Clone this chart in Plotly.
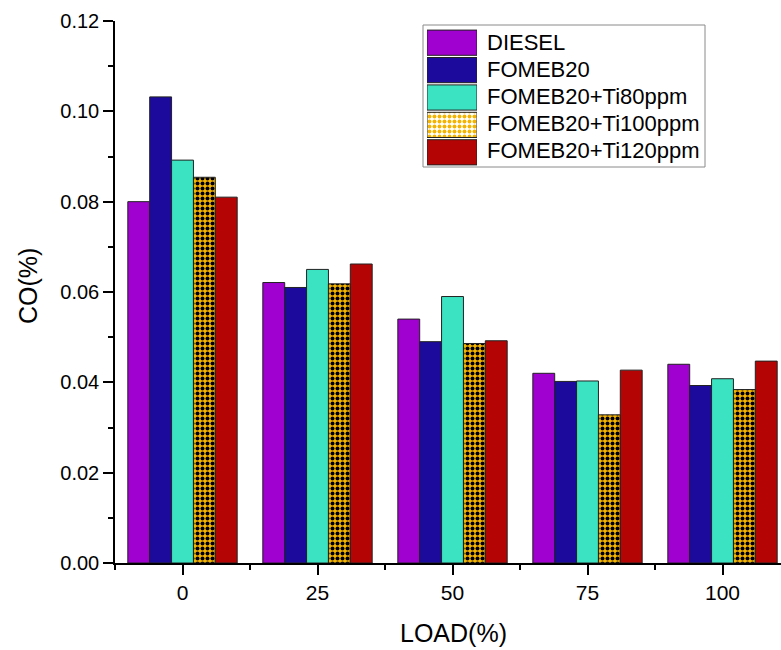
import plotly.graph_objects as go

loads = [0, 25, 50, 75, 100]
series_names = ["DIESEL", "FOMEB20", "FOMEB20+Ti80ppm", "FOMEB20+Ti100ppm", "FOMEB20+Ti120ppm"]
diesel = [0.0800, 0.0621, 0.0540, 0.0420, 0.0440]
fomeb20 = [0.1032, 0.0610, 0.0490, 0.0402, 0.0393]
ti80 = [0.0892, 0.0650, 0.0590, 0.0403, 0.0408]
ti100 = [0.0854, 0.0618, 0.0486, 0.0328, 0.0384]
ti120 = [0.0810, 0.0662, 0.0492, 0.0427, 0.0447]
y_ticks = [0.00, 0.02, 0.04, 0.06, 0.08, 0.10, 0.12]

values = [diesel, fomeb20, ti80, ti100, ti120]
colors = ["#A000D0", "#1C0A9C", "#3CE3C2", "#F4B400", "#B40404"]
patterns = ["", "", "", ".", ""]

FONT = "Liberation Sans, Arial, sans-serif"

# plot-area geometry in pixels (for paper-coordinate conversions)
W, H = 781, 650
L, R, T, B = 115, 0, 21, 87
pw, ph = W - L - R, H - T - B
def px(x):
    return (x - L) / pw
def py(y):
    return (H - B - y) / ph

fig = go.Figure()
for name, vals, c, p in zip(series_names, values, colors, patterns):
    marker = dict(color=c, line=dict(color="#222222", width=1))
    if p:
        marker["pattern"] = dict(shape=p, fgcolor="black", bgcolor=c, size=5,
                                 solidity=0.5, fillmode="replace")
    fig.add_trace(go.Bar(x=loads, y=vals, name=name, marker=marker,
                         showlegend=False))

# custom legend swatches (big Origin-style boxes) on an overlay axis
legend_idx = list(range(len(series_names)))
fig.add_trace(go.Bar(
    x=[1] * len(series_names), y=legend_idx, orientation="h", width=0.92,
    xaxis="x2", yaxis="y2", showlegend=False, hoverinfo="skip",
    marker=dict(color=colors, line=dict(color="#222222", width=1),
                pattern=dict(shape=patterns, fgcolor="black", bgcolor=colors,
                             size=5, solidity=0.5, fillmode="replace")),
))

annotations = []
for i, name in enumerate(series_names):
    annotations.append(dict(
        x=px(485), y=py(30 + 27 * i + 12.5), xref="paper", yref="paper",
        text=name, showarrow=False, xanchor="left", yanchor="middle",
        font=dict(family=FONT, size=22, color="black")))

annotations.append(dict(x=px(453), y=py(633), xref="paper", yref="paper",
                        text="LOAD(%)", showarrow=False, xanchor="center",
                        yanchor="middle", font=dict(family=FONT, size=25, color="black")))
annotations.append(dict(x=px(28), y=py(286), xref="paper", yref="paper",
                        text="CO(%)", showarrow=False, textangle=-90,
                        xanchor="center", yanchor="middle",
                        font=dict(family=FONT, size=25, color="black")))

fig.update_layout(
    width=W, height=H,
    margin=dict(l=L, r=R, t=T, b=B, pad=0),
    paper_bgcolor="white", plot_bgcolor="white",
    barmode="group", bargap=0.19, bargroupgap=0,
    font=dict(family=FONT, size=20, color="black"),
    annotations=annotations,
    shapes=[dict(type="rect", xref="paper", yref="paper",
                 x0=px(423), x1=px(705), y0=py(167), y1=py(25),
                 line=dict(color="#8a8a8a", width=1), fillcolor="rgba(0,0,0,0)",
                 layer="below")],
    xaxis=dict(range=[-12.5, -12.5 + pw / 5.4], tick0=0, dtick=25,
               showline=True, linecolor="black", linewidth=1.5,
               ticks="outside", ticklen=10, tickwidth=1.5, tickcolor="black",
               minor=dict(dtick=12.5, tick0=0, ticks="outside", ticklen=5,
                          tickwidth=1.5, tickcolor="black"),
               showgrid=False, zeroline=False,
               tickfont=dict(family=FONT, size=21, color="black")),
    yaxis=dict(range=[0, 0.12], tickvals=y_ticks, tickformat=".2f",
               showline=True, linecolor="black", linewidth=1.5,
               ticks="outside", ticklen=10, tickwidth=1.5, tickcolor="black",
               minor=dict(dtick=0.01, tick0=0, ticks="outside", ticklen=5,
                          tickwidth=1.5, tickcolor="black"),
               showgrid=False, zeroline=False,
               tickfont=dict(family=FONT, size=20, color="black")),
    xaxis2=dict(domain=[px(427), px(477)], range=[0, 1], visible=False,
                anchor="y2", fixedrange=True),
    yaxis2=dict(domain=[py(166), py(29)], range=[4.5, -0.5], visible=False,
                anchor="x2", fixedrange=True),
)

fig.write_html("out.html")
